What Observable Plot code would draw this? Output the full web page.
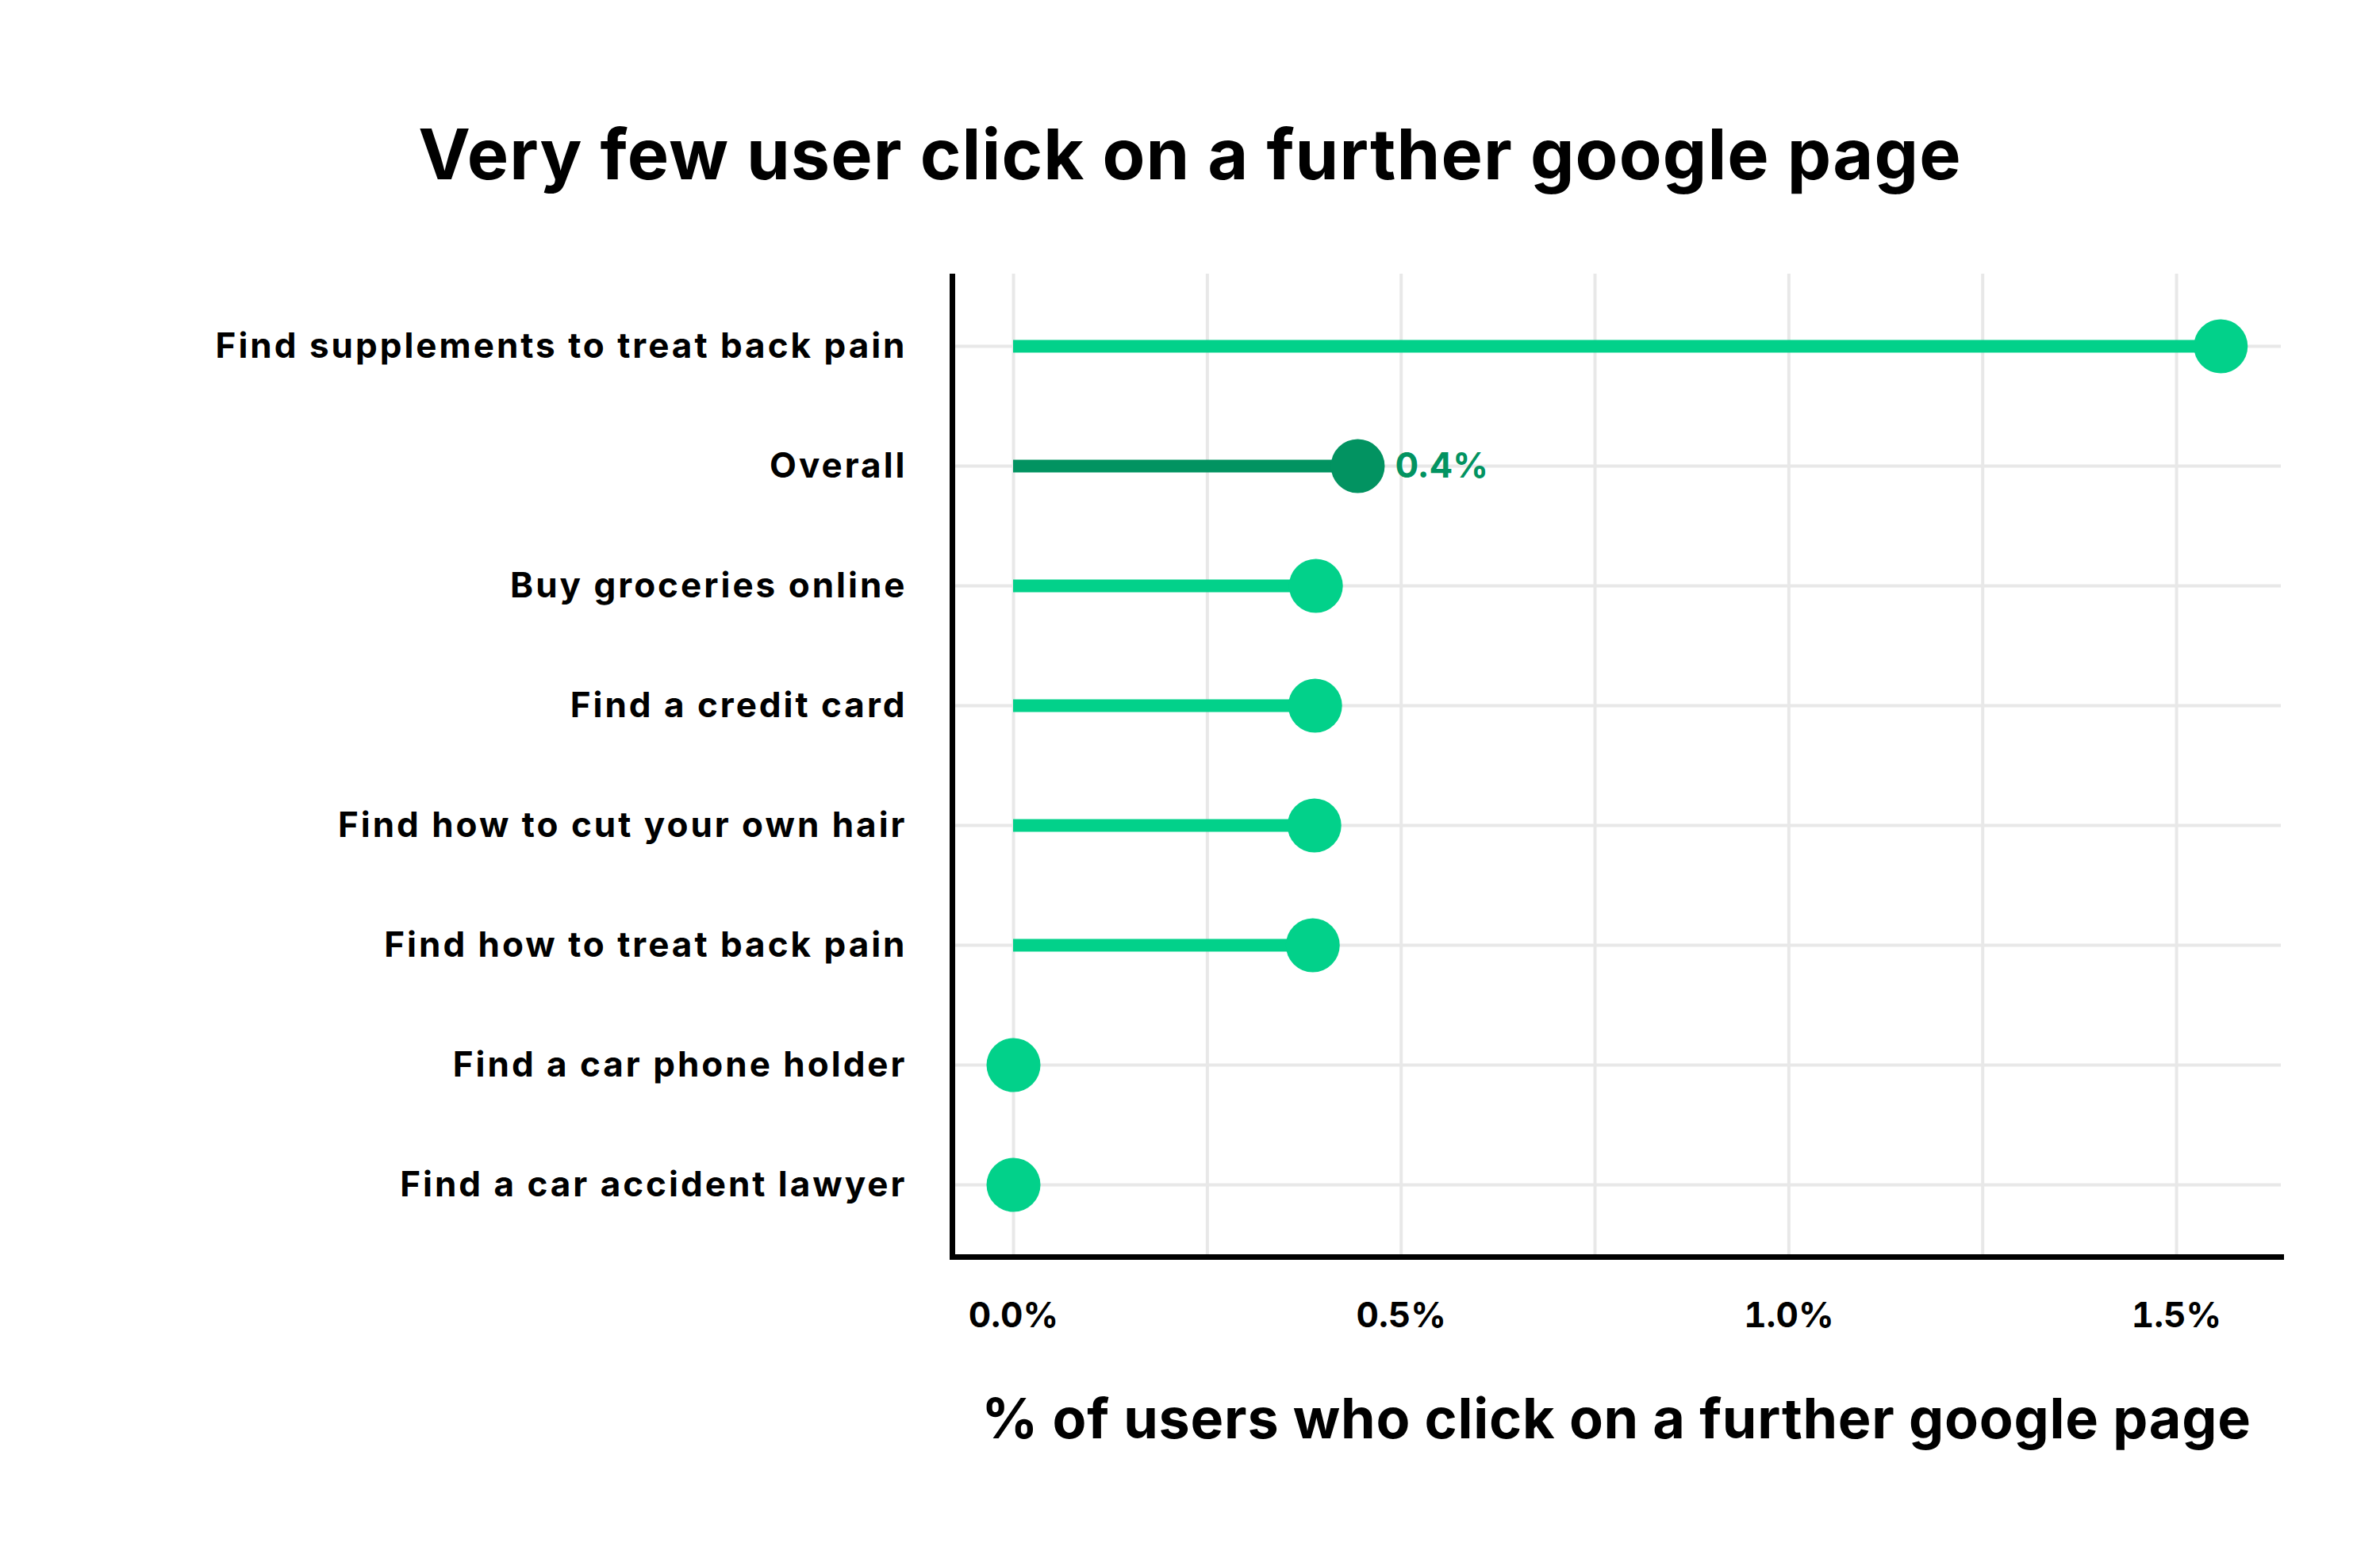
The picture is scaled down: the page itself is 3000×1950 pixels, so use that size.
<!DOCTYPE html>
<html>
<head>
<meta charset="utf-8">
<script src="https://cdn.jsdelivr.net/npm/d3@7"></script>
<script src="https://cdn.jsdelivr.net/npm/@observablehq/plot@0.6"></script>
<style>
  html, body { margin: 0; padding: 0; background: #fff; }
  body { width: 3000px; height: 1950px; overflow: hidden; font-family: Inter, "Noto Sans", sans-serif; }
  #title { height: 300px; box-sizing: border-box; padding-top: 150px; font-size: 88px; line-height: 88px; font-weight: 700; text-align: center; color: #000; letter-spacing: 1.1px; }
  #xlabel { margin-left: 1200px; width: 1675px; box-sizing: border-box; padding-top: 33px; font-size: 70px; line-height: 70px; font-weight: 700; text-align: center; color: #000; letter-spacing: 0.8px; }
  svg { display: block; }
  g[aria-label="y-axis tick label"] text { letter-spacing: 3px; }
</style>
</head>
<body>
<div id="title">Very few user click on a further google page</div>
<div id="chart"></div>
<div id="xlabel">% of users who click on a further google page</div>
<script>
const categories = [
  "Find supplements to treat back pain",
  "Overall",
  "Buy groceries online",
  "Find a credit card",
  "Find how to cut your own hair",
  "Find how to treat back pain",
  "Find a car phone holder",
  "Find a car accident lawyer"
];
const values = [1.557, 0.444, 0.390, 0.389, 0.388, 0.386, 0, 0];
const valueLabels = [null, "0.4%", null, null, null, null, null, null];
const xTicks = [0, 0.5, 1.0, 1.5];
const gridTicks = [0, 0.25, 0.5, 0.75, 1.0, 1.25, 1.5];
const highlight = "Overall";

const data = categories.map((c, i) => ({category: c, value: values[i], label: valueLabels[i]}));
const bright = "#02D18A";
const dark = "#029361";
const colorOf = d => d.category === highlight ? dark : bright;
const xmin = -0.0788, xmax = 1.635;

const plot = Plot.plot({
  width: 3000,
  height: 1420,
  marginLeft: 1200,
  marginRight: 125,
  marginTop: 45,
  marginBottom: 136,
  style: {fontFamily: "Inter, 'Noto Sans', sans-serif", fontWeight: 700, color: "#000", background: "#fff"},
  x: {domain: [xmin, xmax]},
  y: {type: "point", domain: categories, padding: 0.6},
  marks: [
    Plot.gridX({ticks: gridTicks, stroke: "#e8e8e8", strokeOpacity: 1, strokeWidth: 4}),
    Plot.gridY({stroke: "#e8e8e8", strokeOpacity: 1, strokeWidth: 4}),
    Plot.ruleY(data, {x1: 0, x2: "value", y: "category", stroke: colorOf, strokeWidth: 16}),
    Plot.dot(data, {x: "value", y: "category", r: 34, fill: colorOf, stroke: null}),
    Plot.text(data.filter(d => d.label), {x: "value", y: "category", text: "label", dx: 47, textAnchor: "start", fill: dark, fontSize: 44, fontWeight: 700}),
    Plot.axisY({tickSize: 0, tickPadding: 57, fontSize: 44, fontWeight: 700, label: null, fill: "#000"}),
    Plot.axisX({ticks: xTicks, tickFormat: d => d.toFixed(1) + "%", tickSize: 0, tickPadding: 57, fontSize: 44, fontWeight: 700, label: null, fill: "#000"}),
    Plot.ruleX([xmin], {stroke: "#000", strokeWidth: 7}),
    Plot.frame({anchor: "bottom", stroke: "#000", strokeWidth: 7})
  ]
});
document.getElementById("chart").appendChild(plot);
</script>
</body>
</html>
